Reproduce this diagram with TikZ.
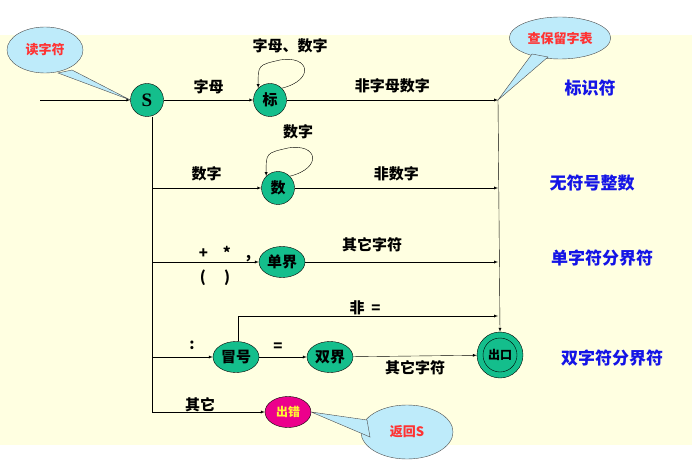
\documentclass[tikz,border=0pt]{standalone}
\usepackage{fontspec}
\setmainfont{Liberation Serif}
\newfontfamily\cjk{Noto Sans CJK SC}
\usetikzlibrary{arrows,shapes,positioning}
\definecolor{bgyellow}{RGB}{255,255,225}
\definecolor{stategreen}{RGB}{20,190,140}
\definecolor{callblue}{RGB}{190,235,250}
\definecolor{labelblue}{RGB}{20,20,230}
\begin{document}
\begin{tikzpicture}[x=1pt,y=-1pt,
                    >=latex,
                    every node/.style={font=\cjk\bfseries\fontsize{15}{17}\selectfont}]
    \tikzstyle{state}=[circle, minimum size=33pt, inner sep=1pt,
                    draw=black, fill=stategreen]
    \tikzstyle{wide}=[ellipse, minimum width=46pt, minimum height=31pt, inner sep=0pt,
                    draw=black, fill=stategreen]
    \tikzstyle{call}=[ellipse, draw=black!70, fill=callblue, text=red!80,
                    font=\cjk\bfseries\fontsize{13}{15}\selectfont]
    \tikzstyle{kind}=[text=labelblue, font=\cjk\bfseries\fontsize{17}{19}\selectfont]

    \useasboundingbox (0,0) rectangle (692,470);
    \fill[bgyellow] (0,35) rectangle (692,445);

    % states
    \node[state] (s) at (147,100) {\rmfamily\fontsize{19}{21}\selectfont S};
    \node[state] (id) at (270,100) {标};
    \node[state] (num) at (278,188) {数};
    \node[wide] (single) at (282,262) {单界};
    \node[wide] (colon) at (236,357) {冒号};
    \node[wide] (double) at (330,357) {双界};
    \node[state, minimum size=46pt] (exit) at (500,355) {};
    \node[state, minimum size=34pt, font=\cjk\bfseries\fontsize{12}{14}\selectfont] (exitin) at (500,355) {出口};
    \node[ellipse, minimum width=46pt, minimum height=31pt, inner sep=0pt,
          draw=black, fill=magenta, text=yellow!80,
          font=\cjk\bfseries\fontsize{12}{14}\selectfont] (err) at (288,412) {出错};

    \coordinate (in) at (40,100);
    \coordinate (t1) at (498,100);
    \coordinate (t2) at (498,188);
    \coordinate (t3) at (498,262);
    \coordinate (bot) at (152,412);

    % connectors
    \draw[->] (in) -- (s);
    \draw[->] (s) -- node[above=3pt] {字母} (id);
    \draw[->] (id.east) -- node[above=3pt] {非字母数字} (t1);
    \draw[->] (id.north east) .. controls (315,80) and (310,55) .. (280,60) .. controls (258,65) .. (id.north west);
    \draw[->] (152,188) -- node[above=3pt] {数字} (num);
    \draw[->] (num.east) -- node[above=3pt] {非数字} (t2);
    \draw[->] (num.north east) .. controls (323,168) and (318,143) .. (288,148) .. controls (266,153) .. (num.north west);
    \draw[->] (152,262) -- (single);
    \draw[->] (single) -- (t3);
    \draw[->] (152,357) -- (colon);
    \draw[->] (colon) -- (double);
    \draw[->] (double) -- (exit);
    \draw[->] (bot) -- (err);
    \draw (s.south) ++(5,0) -- (bot);
    \draw[->] (t1) -- (exit.north);
    \draw[->] (colon.north) ++(2,0) |- (498,316);

    % labels
    \node (lab1) at (290,46) {字母、数字};
    \node (lab2) at (298,132) {数字};
    \node (lab3) at (225,254) {+\quad *\quad ,};
    \node (lab4) at (215,278) {(\quad\ )};
    \node (lab5) at (372,245) {其它字符};
    \node (lab6) at (365,308) {非\ \ =};
    \node (lab7) at (192,345) {:};
    \node (lab8) at (278,347) {=};
    \node (lab9) at (415,368) {其它字符};
    \node (lab10) at (200,405) {其它};

    % callouts
    \node[call, minimum width=76pt, minimum height=46pt] (read) at (45,50) {读字符};
    \draw[draw=black!70, fill=callblue] (72,70) -- (s.west) -- (58,73) -- cycle;
    \node[call, minimum width=90pt, minimum height=42pt] (lookup) at (560,38) {查保留字表};
    \draw[draw=black!70, fill=callblue] (532,54) -- (t1) -- (548,57) -- cycle;
    \node[call, minimum width=92pt, minimum height=54pt] (ret) at (407,432) {返回S};
    \draw[draw=black!70, fill=callblue] (367,420) -- (err.east) -- (370,437) -- cycle;

    % kinds
    \node[kind] (k1) at (590,88) {标识符};
    \node[kind] (k2) at (592,183) {无符号整数};
    \node[kind] (k3) at (602,258) {单字符分界符};
    \node[kind] (k4) at (612,358) {双字符分界符};
\end{tikzpicture}
\end{document}
